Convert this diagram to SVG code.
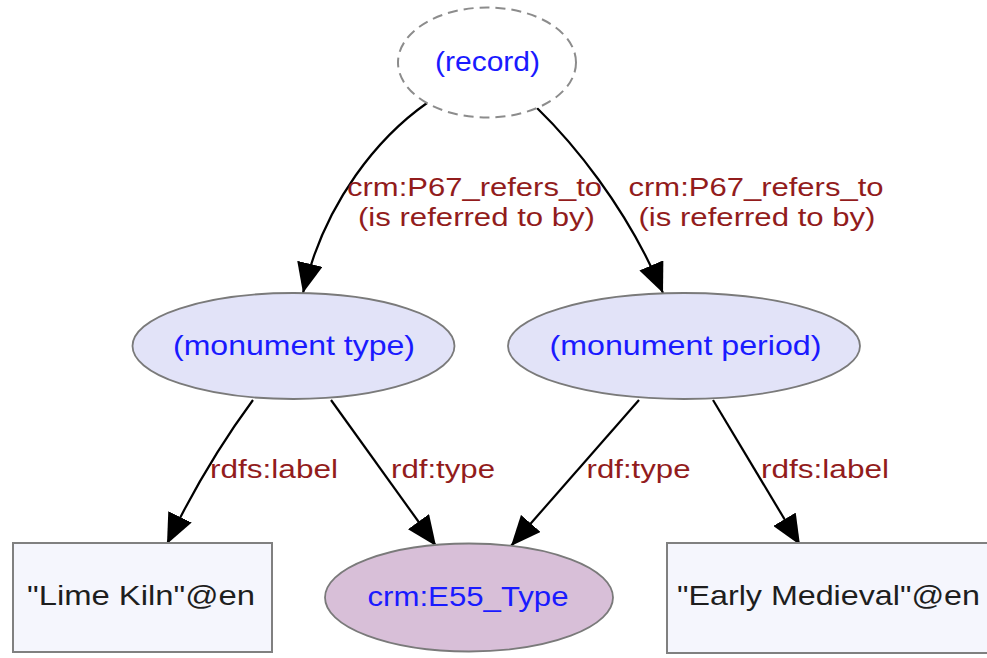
<svg xmlns="http://www.w3.org/2000/svg" width="987" height="658" viewBox="0 0 987 658">
<defs>
<marker id="arr" viewBox="0 0 30 26" refX="30" refY="13" markerWidth="30" markerHeight="26" markerUnits="userSpaceOnUse" orient="auto">
<path d="M0,0 L30,13 L0,26 z" fill="#000"/>
</marker>
</defs>
<style>
text{font-family:"Liberation Sans",Arial,sans-serif;}
.nl{font-size:28px;fill:#1a1aff;text-anchor:middle;}
.bl{font-size:28px;fill:#1e1e1e;text-anchor:middle;}
.el{font-size:25px;fill:#921c1c;text-anchor:middle;}
.edge{fill:none;stroke:#000;stroke-width:2.2;marker-end:url(#arr);}
.ell{stroke:#7a7a7a;stroke-width:1.8;}
</style>
<rect width="987" height="658" fill="#fff"/>
<g id="connectors">
<path class="edge" d="M427,103 C380,136 325,200 303,293"/>
<path class="edge" d="M537,108 C570,140 626,205 663,293"/>
<path class="edge" d="M253,400 Q205,465 167,544"/>
<path class="edge" d="M331,400 L436,546"/>
<path class="edge" d="M639,400 L511,546"/>
<path class="edge" d="M713,400 L800,545"/>
<text class="el" x="474.5" y="196" textLength="255" lengthAdjust="spacingAndGlyphs">crm:P67_refers_to</text>
<text class="el" x="476.5" y="226" textLength="237" lengthAdjust="spacingAndGlyphs">(is referred to by)</text>
<text class="el" x="756" y="196" textLength="255" lengthAdjust="spacingAndGlyphs">crm:P67_refers_to</text>
<text class="el" x="757" y="226" textLength="237" lengthAdjust="spacingAndGlyphs">(is referred to by)</text>
<text class="el" x="274" y="478" textLength="128" lengthAdjust="spacingAndGlyphs">rdfs:label</text>
<text class="el" x="443" y="478" textLength="104" lengthAdjust="spacingAndGlyphs">rdf:type</text>
<text class="el" x="638.5" y="478" textLength="104" lengthAdjust="spacingAndGlyphs">rdf:type</text>
<text class="el" x="825" y="478" textLength="128" lengthAdjust="spacingAndGlyphs">rdfs:label</text>
</g>
<g id="record">
<ellipse cx="487" cy="62.5" rx="89" ry="55" fill="#fff" stroke="#8c8c8c" stroke-width="2" stroke-dasharray="10,6"/>
<text class="nl" x="487.5" y="71" textLength="105" lengthAdjust="spacingAndGlyphs">(record)</text>
</g>
<g id="monument_type">
<ellipse class="ell" cx="293.5" cy="346" rx="161" ry="53" fill="#e2e3f8"/>
<text class="nl" x="294" y="355" textLength="242" lengthAdjust="spacingAndGlyphs">(monument type)</text>
</g>
<g id="monument_period">
<ellipse class="ell" cx="684" cy="346" rx="176" ry="53" fill="#e2e3f8"/>
<text class="nl" x="685.5" y="355" textLength="272" lengthAdjust="spacingAndGlyphs">(monument period)</text>
</g>
<g id="e55_type">
<ellipse class="ell" cx="469" cy="597.5" rx="144" ry="54" fill="#d8bfd8"/>
<text class="nl" x="468" y="606" textLength="201" lengthAdjust="spacingAndGlyphs">crm:E55_Type</text>
</g>
<g id="lime_kiln">
<rect x="13" y="543" width="259" height="109" fill="#f5f6fd" stroke="#808080" stroke-width="2"/>
<text class="bl" x="141" y="605" textLength="228" lengthAdjust="spacingAndGlyphs">"Lime Kiln"@en</text>
</g>
<g id="early_medieval">
<rect x="667" y="543" width="323" height="110" fill="#f5f6fd" stroke="#808080" stroke-width="2"/>
<text class="bl" x="828.5" y="605" textLength="303" lengthAdjust="spacingAndGlyphs">"Early Medieval"@en</text>
</g>
</svg>
